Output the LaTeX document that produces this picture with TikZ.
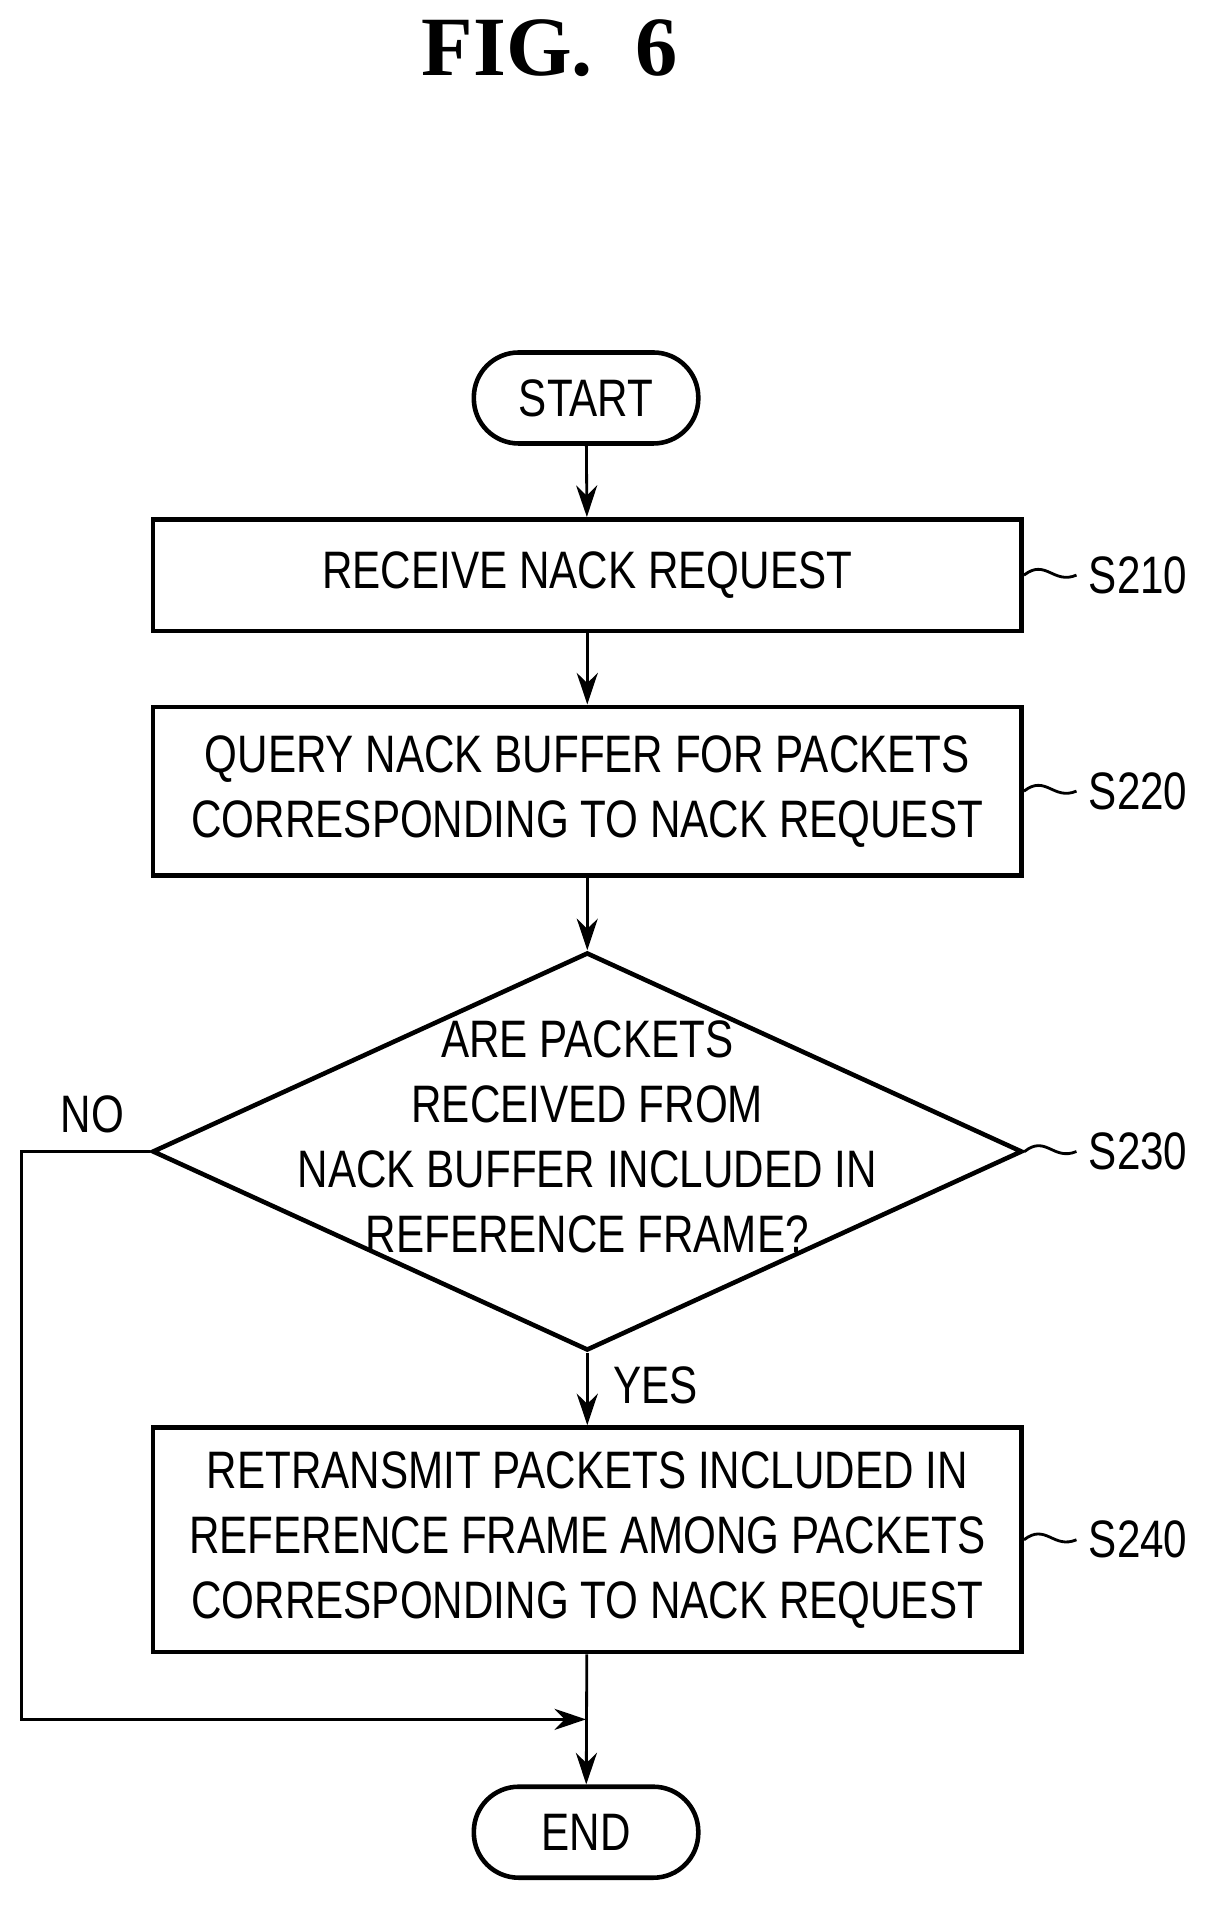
\documentclass[tikz,border=0pt]{standalone}
\usepackage{fontspec}
\setmainfont{Liberation Sans}[FakeStretch=0.8]
\newfontfamily\figfont{Liberation Serif}
\usetikzlibrary{arrows.meta}
\usetikzlibrary{shapes.geometric}
\usetikzlibrary{calc}

\begin{document}
\begin{tikzpicture}[x=0.01213cm,y=-0.01213cm,>/.tip={Stealth[length=9pt,width=6pt]},
	every node/.style={font=\fontsize{15}{18.5}\selectfont},
	proc/.style={draw,line width=1.3pt,minimum width=716*0.01213cm,align=center,inner sep=0pt},
	term/.style={draw,line width=1.3pt,rounded corners=37*0.01213cm,minimum width=185*0.01213cm,minimum height=75*0.01213cm},
	tag/.style={line width=0.8pt}]
	\useasboundingbox (0,0) rectangle (1000,1570);
	\draw (453,40) node (fig) {\figfont\bfseries\fontsize{24}{28}\selectfont FIG.\ \ 6};
	\draw (483,328) node(start) [term] {START};
	\draw (484,474) node(S210) [proc,minimum height=92*0.01213cm] {RECEIVE NACK REQUEST};
	\draw (484,652) node(S220) [proc,minimum height=139*0.01213cm] {QUERY NACK BUFFER FOR PACKETS\\CORRESPONDING TO NACK REQUEST};
	\draw (484,949) node(S230) [draw,line width=1.3pt,diamond,aspect=2.19,minimum width=717*0.01213cm,minimum height=328*0.01213cm,inner sep=0pt,align=center] {};
	\node[align=center] at (484,937) {ARE PACKETS\\RECEIVED FROM\\NACK BUFFER INCLUDED IN\\REFERENCE FRAME?};
	\draw (484,1269) node(S240) [proc,minimum height=185*0.01213cm] {RETRANSMIT PACKETS INCLUDED IN\\REFERENCE FRAME AMONG PACKETS\\CORRESPONDING TO NACK REQUEST};
	\draw (483,1510) node(end) [term] {END};
	\draw (76,918) node (no) {NO};
	\draw (540,1142) node (yes) {YES};
	\foreach \s/\y in {S210/474,S220/652,S230/949,S240/1269} {
		\draw (938,\y) node (l\s) {\s};
		\draw[tag] (\s.east |- 0,\y) .. controls (862,\y-14) and (868,\y+8) .. (l\s.west);
	}
	\coordinate (join) at (483,1417);
	\draw[->,line width=0.8pt] (start) -- (S210);
	\draw[->,line width=0.8pt] (S210) -- (S220);
	\draw[->,line width=0.8pt] (S220) -- (S230);
	\draw[->,line width=0.8pt] (S230) -- (S240);
	\draw[->,line width=0.8pt] (S240) -- (end);
	\draw[->,line width=0.8pt] (S230.west) -- (18,949) -- (18,1417) -- (join);
\end{tikzpicture}
\end{document}
